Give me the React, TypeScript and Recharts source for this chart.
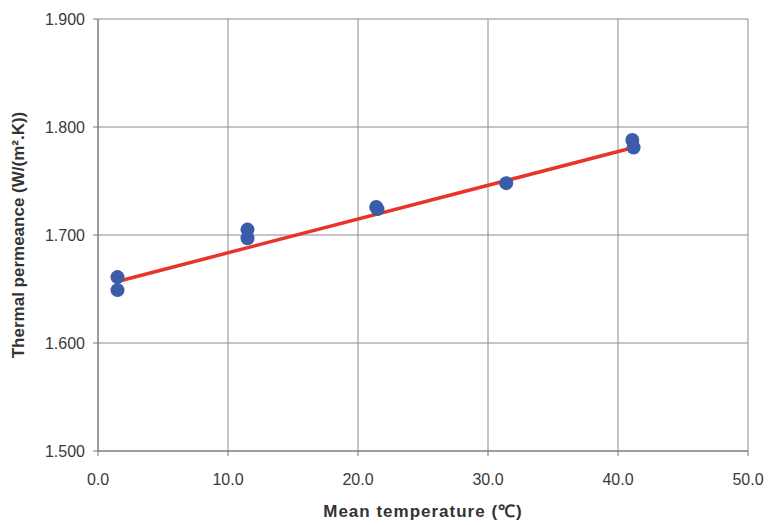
import { ComposedChart, Scatter, Line, XAxis, YAxis, CartesianGrid } from "recharts";

const tempC = [1.5, 1.5, 11.5, 11.5, 21.4, 21.5, 31.4, 41.1, 41.2];
const permeance = [1.661, 1.649, 1.705, 1.697, 1.726, 1.724, 1.748, 1.788, 1.781];
const fitX = [1.5, 41.2];
const fitY = [1.657, 1.781];
const xTicks = [0, 10, 20, 30, 40, 50];
const yTicks = [1.5, 1.6, 1.7, 1.8, 1.9];

const points = tempC.map((t, i) => ({ t, k: permeance[i] }));
const fit = fitX.map((t, i) => ({ t, k: fitY[i] }));

const tick = { fontSize: 16, fill: "#3a3a3a", fontFamily: "Liberation Sans, Arial, sans-serif" };
const title = { fontSize: 17, fontWeight: "bold", fill: "#333", fontFamily: "Liberation Sans, Arial, sans-serif" };

export default function App() {
  return (
    <div style={{ position: "absolute", left: 0, top: 0, background: "#fff" }}>
      <ComposedChart width={772} height={525} margin={{ top: 19, right: 24, bottom: 4, left: 40 }}>
        <CartesianGrid stroke="#8a8a8a" strokeWidth={1} />
        <XAxis
          type="number"
          dataKey="t"
          domain={[0, 50]}
          ticks={xTicks}
          tickFormatter={(v: number) => v.toFixed(1)}
          tick={tick}
          stroke="#777"
          tickSize={5}
          tickMargin={18}
          height={70}
          label={{ value: "Mean temperature (℃)", position: "insideBottom", offset: 4, style: { ...title, letterSpacing: 1 } }}
        />
        <YAxis
          type="number"
          dataKey="k"
          domain={[1.5, 1.9]}
          ticks={yTicks}
          tickFormatter={(v: number) => v.toFixed(3)}
          tick={tick}
          stroke="#777"
          tickSize={5}
          tickMargin={8}
          width={58}
          label={{ value: "Thermal permeance (W/(m².K))", angle: -90, position: "insideLeft", offset: -22, style: { ...title, textAnchor: "middle" } }}
        />
        <Line data={fit} dataKey="k" stroke="#e8342a" strokeWidth={3.5} dot={false} isAnimationActive={false} />
        <Scatter data={points} fill="#3b5ca8" shape={(p: any) => <circle cx={p.cx} cy={p.cy} r={7} fill="#3b5ca8" />} isAnimationActive={false} />
      </ComposedChart>
    </div>
  );
}
